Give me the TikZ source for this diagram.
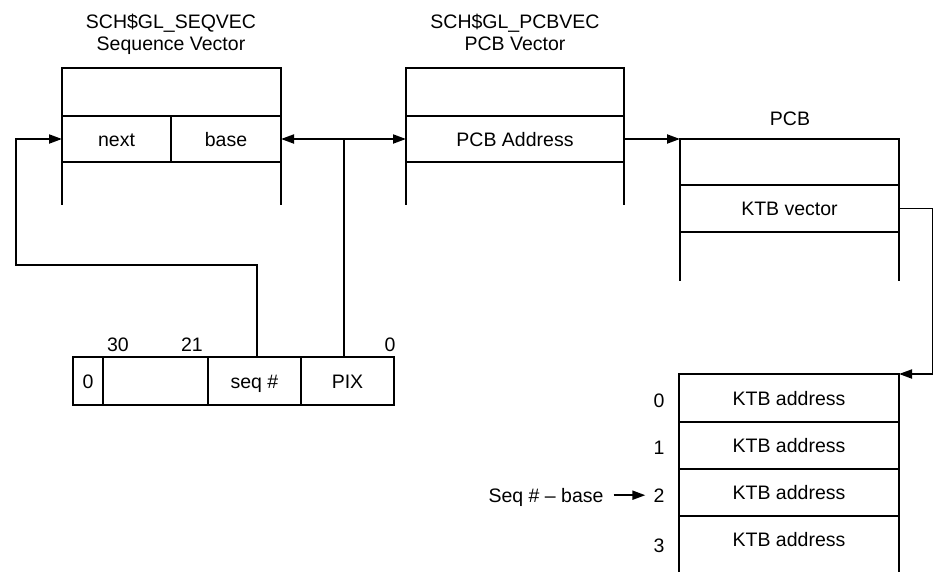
\documentclass[tikz,border=0pt]{standalone}
\usepackage{fontspec}
\setmainfont{Liberation Sans}
\usetikzlibrary{arrows.meta}
\begin{document}
\begin{tikzpicture}[x=1pt,y=-1pt,
  fnt/.style={font=\fontsize{19.5}{23}\selectfont},
  cell/.style={draw,line width=1.9pt,inner sep=0pt,outer sep=0pt,anchor=north west,fnt,text height=14pt,text depth=0pt},
  txt/.style={inner sep=0pt,fnt,anchor=base},
  ln/.style={line width=1.9pt},
  tip/.tip={Triangle[length=13pt,width=9pt]},
  arr/.style={line width=1.9pt,-tip},
  darr/.style={line width=1.9pt,tip-tip},
]
\useasboundingbox (0,0) rectangle (934,571);

% Sequence vector
\node[txt] (t1a) at (171,28) {SCH\$GL\_SEQVEC};
\node[txt] (t1b) at (171,50) {Sequence Vector};
\node[cell,minimum width=219pt,minimum height=48pt] (seqtop) at (62,68) {};
\node[cell,minimum width=109pt,minimum height=46pt] (next) at (62,116) {next};
\node[cell,minimum width=110pt,minimum height=46pt] (base) at (171,116) {base};
\draw[ln] (next.south west) -- ++(0,43);
\draw[ln] (base.south east) -- ++(0,43);

% PCB vector
\node[txt] (t2a) at (515,28) {SCH\$GL\_PCBVEC};
\node[txt] (t2b) at (515,50) {PCB Vector};
\node[cell,minimum width=218pt,minimum height=48pt] (pcbtop) at (406,68) {};
\node[cell,minimum width=218pt,minimum height=46pt] (pcbaddr) at (406,116) {PCB Address};
\draw[ln] (pcbaddr.south west) -- ++(0,43);
\draw[ln] (pcbaddr.south east) -- ++(0,43);

% PCB
\node[txt] (t3) at (790,125) {PCB};
\node[cell,minimum width=219pt,minimum height=46pt] (pcb) at (680,139) {};
\node[cell,minimum width=219pt,minimum height=47pt] (ktbvec) at (680,185) {KTB vector};
\draw[ln] (ktbvec.south west) -- ++(0,49);
\draw[ln] (ktbvec.south east) -- ++(0,49);

% KTB table
\node[cell,minimum width=220pt,minimum height=48pt] (k0) at (679,374) {KTB address};
\node[cell,minimum width=220pt,minimum height=47pt] (k1) at (679,422) {KTB address};
\node[cell,minimum width=220pt,minimum height=47pt] (k2) at (679,469) {KTB address};
\node[txt] (k3) at (789,546) {KTB address};
\draw[ln] (k2.south west) -- ++(0,56);
\draw[ln] (k2.south east) -- ++(0,56);
\node[txt] (i0) at (659,407) {0};
\node[txt] (i1) at (659,454) {1};
\node[txt,inner xsep=8pt] (i2) at (659,502) {2};
\node[txt] (i3) at (659,552) {3};
\node[txt,inner xsep=10pt] (sl) at (546,502) {Seq \# -- base};
\draw[arr] (sl.east |- i2.center) -- (i2.west |- i2.center);

% Register
\node[cell,minimum width=30pt,minimum height=48pt] (r0) at (73,357) {0};
\node[cell,minimum width=105pt,minimum height=48pt] (rb) at (103,357) {};
\node[cell,minimum width=93pt,minimum height=48pt] (rseq) at (208,357) {seq \#};
\node[cell,minimum width=93pt,minimum height=48pt] (rpix) at (301,357) {PIX};
\node[txt] (b30) at (118,351) {30};
\node[txt] (b21) at (192,351) {21};
\node[txt] (b0) at (390,351) {0};

% Connectors
\coordinate (cl) at (16,265);
\draw[arr] ([xshift=2.5pt]rseq.north) |- (cl) |- (next.west);
\draw[darr] (base.east) -- (pcbaddr.west);
\draw[ln] ([xshift=-3.5pt]rpix.north) -- ([xshift=-3.5pt]rpix.north |- base.east);
\draw[arr] (pcbaddr.east) -- (pcb.north west);
\coordinate (rt) at (932.5,374);
\draw[arr] (ktbvec.east) -| (rt) -- (k0.north east);
\end{tikzpicture}
\end{document}
